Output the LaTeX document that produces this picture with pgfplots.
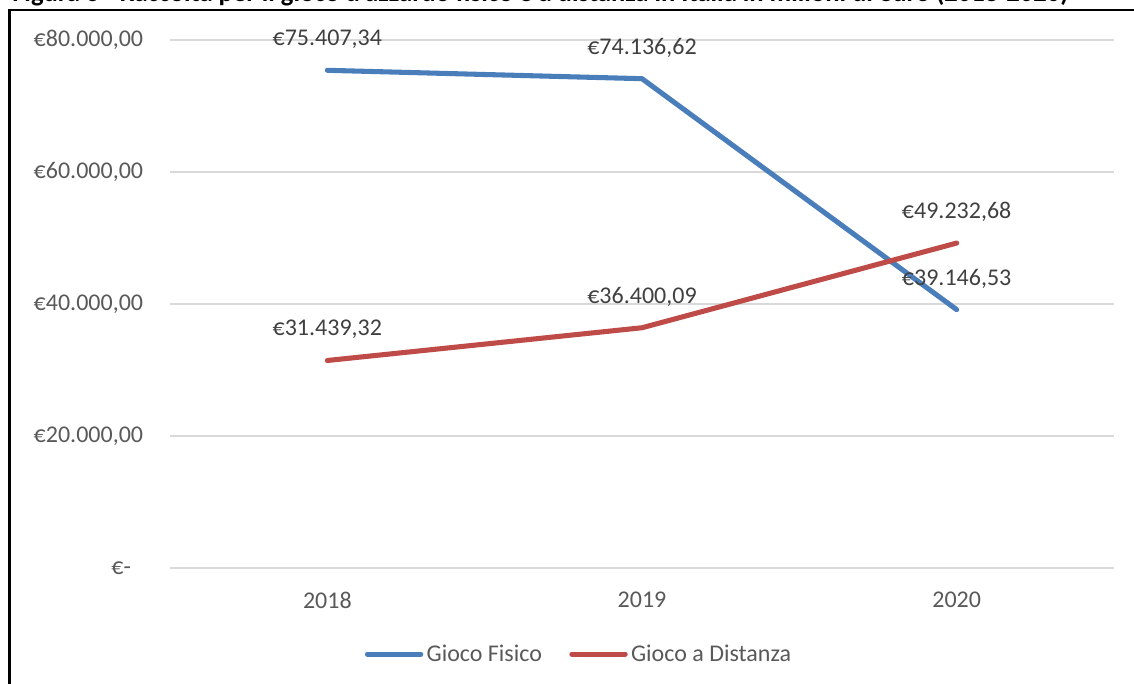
\documentclass[border=0pt]{standalone}
\usepackage{pgfplots}
\pgfplotsset{compat=1.18}
\usepackage{fontspec}
\setmainfont{Carlito}
\definecolor{gfis}{HTML}{4A7EBB}
\definecolor{gdist}{HTML}{BE4B48}
\definecolor{ticktext}{HTML}{595959}
\definecolor{labtext}{HTML}{404040}
\definecolor{gridc}{HTML}{D9D9D9}
\begin{document}
\begin{tikzpicture}[x=0.75pt,y=0.75pt]
\useasboundingbox (0,0) rectangle (1134,684);
% partially visible caption above the frame
\node[anchor=base west, inner sep=0pt] at (12,682.3)
  {\resizebox{792pt}{!}{\fontsize{20}{24}\selectfont\bfseries Figura 6 - Raccolta per il gioco d'azzardo fisico e a distanza in Italia in milioni di euro (2018-2020)}};
\draw[line width=2.2pt] (9.5,-5) -- (9.5,674) -- (1140,674);
\begin{axis}[
  at={(127.5pt,87pt)}, anchor=south west,
  scale only axis, width=708pt, height=396pt,
  xmin=-0.5, xmax=2.5, ymin=0, ymax=80000,
  scaled y ticks=false,
  xtick={0,1,2}, xticklabels={2018,2019,2020},
  ytick={0,20000,40000,60000,80000},
  yticklabels={{€-\hphantom{0}},{€20.000,00},{€40.000,00},{€60.000,00},{€80.000,00}},
  axis line style={draw=none},
  major tick length=0pt,
  ymajorgrids, major grid style={color=gridc, line width=1.4pt},
  tick label style={font=\fontsize{18}{21}\selectfont, text=ticktext},
  yticklabel style={anchor=east, inner sep=0pt, xshift=-20pt},
  xticklabel style={anchor=center, inner sep=0pt, yshift=-24pt},
  clip=false,
  nodes near coords, point meta=explicit symbolic,
  every node near coord/.append style={anchor=center, yshift=23.25pt, font=\fontsize{18}{21}\selectfont, text=labtext},
  legend columns=2,
  legend style={at={(0.434,-0.163)}, anchor=center, draw=none, fill=none,
    font=\fontsize{18}{21}\selectfont, text=ticktext, inner sep=0pt,
    nodes={inner sep=2.5pt},
    /tikz/every even column/.append style={column sep=18pt}},
  legend image code/.code={\draw[#1, line cap=round] (0pt,0pt) -- (40pt,0pt);},
]
\addplot[color=gfis, line width=3.8pt, line cap=round, line join=round] coordinates {
  (0,75407.34) [€75.407,34]
  (1,74136.62) [€74.136,62]
  (2,39146.53) [€39.146,53]
};
\addlegendentry{Gioco Fisico}
\addplot[color=gdist, line width=3.8pt, line cap=round, line join=round] coordinates {
  (0,31439.32) [€31.439,32]
  (1,36400.09) [€36.400,09]
  (2,49232.68) [€49.232,68]
};
\addlegendentry{Gioco a Distanza}
\end{axis}
\end{tikzpicture}
\end{document}
